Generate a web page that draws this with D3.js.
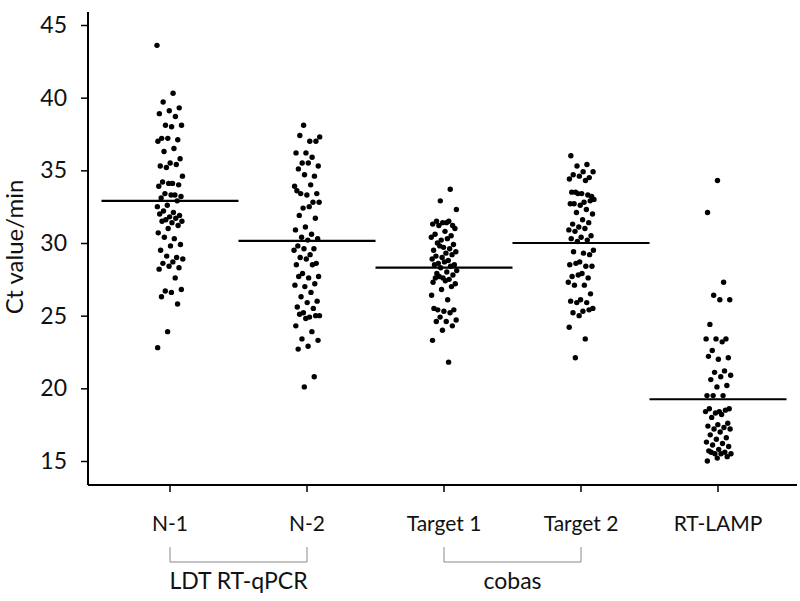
<!DOCTYPE html>
<html><head><meta charset="utf-8">
<script src="https://cdn.jsdelivr.net/npm/d3@7"></script>
<style>html,body{margin:0;padding:0;background:#fff;}svg{display:block;}</style>
</head><body>
<script>
const categories = ["N-1", "N-2", "Target 1", "Target 2", "RT-LAMP"];
const groupLabels = ["LDT RT-qPCR", "cobas"];
const groupMembers = [["N-1", "N-2"], ["Target 1", "Target 2"]];
const yTicks = [15, 20, 25, 30, 35, 40, 45];
const meanValues = [32.9, 30.15, 28.3, 30.0, 19.25];

const n1 = [43.6, 40.3, 39.7, 39.3, 39.1, 38.9, 38.7, 38.1, 38.1, 38.0, 37.2, 37.1, 37.2, 37.0, 36.5, 36.3, 35.8, 35.5, 35.3, 35.4, 35.2, 34.6, 34.1, 34.2, 34.0, 34.1, 33.9, 33.3, 33.4, 33.2, 33.3, 33.1, 32.9, 32.6, 32.5, 32.1, 32.2, 31.9, 31.8, 32.0, 31.7, 31.6, 31.5, 31.4, 31.5, 31.2, 31.0, 30.7, 30.3, 30.4, 29.9, 29.8, 29.5, 29.0, 29.1, 28.9, 28.7, 28.6, 28.3, 28.4, 28.2, 27.6, 26.7, 26.8, 26.6, 26.3, 25.8, 23.9, 22.8];
const n2 = [38.1, 37.3, 37.0, 37.4, 37.0, 36.2, 36.2, 35.9, 35.5, 35.3, 35.5, 35.1, 34.6, 34.7, 33.9, 34.0, 33.4, 33.4, 33.3, 33.6, 32.8, 32.4, 32.8, 32.5, 31.9, 31.7, 31.1, 30.9, 30.6, 30.4, 30.3, 30.2, 29.8, 29.6, 29.6, 29.5, 29.2, 29.0, 28.6, 28.9, 28.5, 28.5, 27.9, 27.7, 27.6, 27.7, 27.2, 27.0, 27.1, 26.6, 26.3, 26.0, 25.9, 25.6, 25.5, 25.2, 25.0, 24.9, 25.1, 25.0, 24.8, 24.3, 23.9, 23.4, 23.3, 22.9, 22.7, 20.8, 20.1];
const t1 = [33.7, 32.9, 32.3, 31.4, 31.5, 31.2, 31.4, 31.3, 31.5, 31.2, 31.0, 30.8, 30.6, 30.5, 30.2, 30.4, 30.3, 30.0, 29.9, 29.7, 29.5, 29.6, 29.8, 29.4, 29.3, 29.1, 29.2, 29.0, 28.9, 28.8, 28.6, 28.5, 28.7, 28.5, 28.4, 28.3, 28.1, 28.0, 27.9, 27.8, 27.6, 27.3, 27.5, 27.7, 27.2, 27.4, 27.6, 27.0, 26.8, 26.4, 26.1, 25.4, 25.4, 25.3, 25.5, 25.2, 24.9, 24.7, 24.6, 24.6, 24.3, 24.0, 23.3, 21.8];
const t2 = [36.0, 35.4, 35.3, 34.9, 34.9, 34.7, 34.5, 34.6, 34.4, 34.3, 33.5, 33.2, 33.4, 33.5, 33.3, 33.4, 33.0, 32.8, 32.7, 32.9, 32.6, 32.7, 32.3, 32.1, 32.0, 31.6, 31.3, 31.4, 31.1, 30.9, 31.0, 30.8, 30.5, 30.4, 30.3, 30.2, 30.1, 29.5, 29.3, 29.4, 29.2, 28.7, 28.5, 28.4, 28.6, 28.4, 27.9, 27.7, 27.6, 27.8, 27.3, 27.1, 27.1, 26.5, 26.1, 26.0, 25.9, 25.9, 25.5, 25.3, 25.2, 25.4, 25.0, 24.2, 23.4, 22.1];
const lamp = [34.3, 32.1, 27.3, 26.4, 26.1, 26.1, 24.4, 23.4, 23.4, 23.4, 23.2, 22.6, 22.1, 22.0, 22.2, 21.2, 21.1, 20.9, 20.8, 20.6, 20.2, 20.1, 19.5, 19.5, 19.5, 18.6, 18.4, 18.6, 18.5, 18.3, 18.4, 18.2, 18.0, 17.6, 17.5, 17.4, 17.3, 17.2, 17.2, 17.0, 16.8, 16.6, 16.5, 16.3, 16.2, 16.1, 16.0, 15.8, 15.7, 15.6, 15.5, 15.5, 15.5, 15.6, 15.3, 15.2, 15.0];
const seriesValues = [n1, n2, t1, t2, lamp];

const W = 800, H = 601;
const FONT = "Lato, 'Open Sans', sans-serif";
const svg = d3.select("body").append("svg").attr("width", W).attr("height", H);
svg.append("rect").attr("width", W).attr("height", H).attr("fill", "#fff");

const y = d3.scaleLinear().domain([15, 45]).range([461, 25]);
const x = d3.scaleBand().domain(categories).range([101.5, 786.5]).padding(0);
const axisX = 88, axisY = 485;

// Y axis
const yAxis = svg.append("g").attr("transform", `translate(${axisX},0)`)
  .call(d3.axisLeft(y).tickValues(yTicks).tickSize(7).tickPadding(14).tickFormat(d3.format("d")));
yAxis.select(".domain").remove();
yAxis.selectAll(".tick line").attr("stroke", "#000").attr("stroke-width", 1.5);
yAxis.selectAll(".tick text").attr("font-family", FONT).attr("font-size", 23).attr("fill", "#111");
svg.append("line").attr("x1", axisX).attr("x2", axisX).attr("y1", 12).attr("y2", axisY)
  .attr("stroke", "#000").attr("stroke-width", 2);

// X axis
const xAxis = svg.append("g").attr("transform", `translate(0,${axisY})`)
  .call(d3.axisBottom(x).tickSize(7).tickPadding(24));
xAxis.select(".domain").remove();
xAxis.selectAll(".tick line").attr("stroke", "#000").attr("stroke-width", 1.5);
xAxis.selectAll(".tick text").attr("font-family", FONT).attr("font-size", 21).attr("fill", "#111");
svg.append("line").attr("x1", axisX).attr("x2", 797).attr("y1", axisY).attr("y2", axisY)
  .attr("stroke", "#000").attr("stroke-width", 2);

// Y label
svg.append("text").attr("transform", `translate(23,247) rotate(-90)`)
  .attr("text-anchor", "middle").attr("font-family", FONT).attr("font-size", 24).attr("fill", "#111")
  .text("Ct value/min");

// Group brackets
const cx = c => x(c) + x.bandwidth() / 2;
groupMembers.forEach((mem, i) => {
  const a = cx(mem[0]), b = cx(mem[1]);
  svg.append("path").attr("d", `M${a},547V562H${b}V547`).attr("fill", "none")
    .attr("stroke", "#888").attr("stroke-width", 1);
  svg.append("text").attr("x", (a + b) / 2).attr("y", 589).attr("text-anchor", "middle")
    .attr("font-family", FONT).attr("font-size", 23).attr("fill", "#111").text(groupLabels[i]);
});

// Dots with deterministic golden-ratio jitter
const phi = 0.6180339887;
categories.forEach((c, ci) => {
  svg.append("g").selectAll("circle").data(seriesValues[ci]).join("circle")
    .attr("cx", (d, i) => cx(c) + (((i * phi + ci * 0.37) % 1) - 0.5) * 26)
    .attr("cy", d => y(d))
    .attr("r", 2.7).attr("fill", "#000");
});

// Mean lines
svg.append("g").selectAll("line").data(categories).join("line")
  .attr("x1", c => x(c)).attr("x2", c => x(c) + x.bandwidth())
  .attr("y1", (c, i) => y(meanValues[i])).attr("y2", (c, i) => y(meanValues[i]))
  .attr("stroke", "#000").attr("stroke-width", 2.2);
</script>
</body></html>
